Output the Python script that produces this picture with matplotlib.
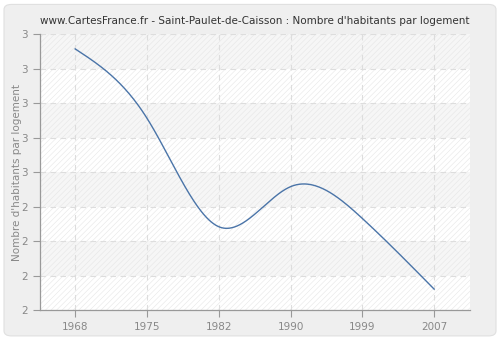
import numpy as np
import matplotlib
matplotlib.use("Agg")
from matplotlib import pyplot as plt
from matplotlib.patches import FancyBboxPatch

# Données (recensements) - axe x catégoriel, années équidistantes
annees = ["1968", "1975", "1982", "1990", "1999", "2007"]
valeurs = [2.946, 2.695, 2.302, 2.447, 2.332, 2.076]
yticks = [2.0, 2.125, 2.25, 2.375, 2.5, 2.625, 2.75, 2.875, 3.0]
ylabels = ["2", "2", "2", "2", "3", "3", "3", "3", "3"]


def spline_naturelle(x, y, xs):
    # spline cubique naturelle, pour le tracé lissé
    x = np.asarray(x, float)
    y = np.asarray(y, float)
    n = len(x)
    h = np.diff(x)
    A = np.zeros((n, n))
    b = np.zeros(n)
    A[0, 0] = A[-1, -1] = 1
    for i in range(1, n - 1):
        A[i, i - 1] = h[i - 1]
        A[i, i] = 2 * (h[i - 1] + h[i])
        A[i, i + 1] = h[i]
        b[i] = 3 * ((y[i + 1] - y[i]) / h[i] - (y[i] - y[i - 1]) / h[i - 1])
    c = np.linalg.solve(A, b)
    out = np.empty_like(xs)
    for k, t in enumerate(xs):
        i = min(max(np.searchsorted(x, t) - 1, 0), n - 2)
        d = (c[i + 1] - c[i]) / (3 * h[i])
        bb = (y[i + 1] - y[i]) / h[i] - h[i] * (2 * c[i] + c[i + 1]) / 3
        dt = t - x[i]
        out[k] = y[i] + bb * dt + c[i] * dt ** 2 + d * dt ** 3
    return out


plt.rcParams["hatch.linewidth"] = 0.4

fig = plt.figure(figsize=(5, 3.4), dpi=100)
fig.patch.set_facecolor("#ffffff")
cadre = FancyBboxPatch((0.008, 0.012), 0.984, 0.975,
                       boxstyle="round,pad=0,rounding_size=0.015",
                       transform=fig.transFigure, facecolor="#efefef",
                       edgecolor="#e0e0e0", linewidth=0.8, zorder=-10)
fig.add_artist(cadre)

ax = fig.add_axes([0.08, 0.088, 0.86, 0.812])
ax.set_zorder(1)
ax.set_facecolor("#f9f9f9")
ax.set_xlim(-0.49, 5.5)
ax.set_ylim(2.0, 3.0)

# bandes alternées + hachures
for i in range(len(yticks) - 1):
    col = "#ffffff" if i % 2 == 0 else "#f6f6f6"
    ax.axhspan(yticks[i], yticks[i + 1], facecolor=col, edgecolor="#e6e6e6",
               hatch="//////", linewidth=0, zorder=0)

ax.grid(True, color="#dddddd", linestyle=(0, (5, 4)), linewidth=0.8)
ax.set_axisbelow(True)

pos = np.arange(len(annees))
xs = np.linspace(pos[0], pos[-1], 400)
ax.plot(xs, spline_naturelle(pos, valeurs, xs), color="#4a74a8", linewidth=1.0, zorder=3)

ax.set_xticks(pos)
ax.set_xticklabels(annees)
ax.set_yticks(yticks)
ax.set_yticklabels(ylabels)
ax.tick_params(colors="#999999", labelcolor="#888888", labelsize=7.5, length=5, width=0.8)

for s in ("top", "right"):
    ax.spines[s].set_visible(False)
for s in ("left", "bottom"):
    ax.spines[s].set_color("#999999")
    ax.spines[s].set_linewidth(0.9)

ax.set_ylabel("Nombre d'habitants par logement", color="#888888", fontsize=7.5, labelpad=0)
ax.set_title("www.CartesFrance.fr - Saint-Paulet-de-Caisson : Nombre d'habitants par logement",
             color="#333333", fontsize=7.5, pad=7)

fig.savefig("out.png", dpi=100, facecolor=fig.get_facecolor())
